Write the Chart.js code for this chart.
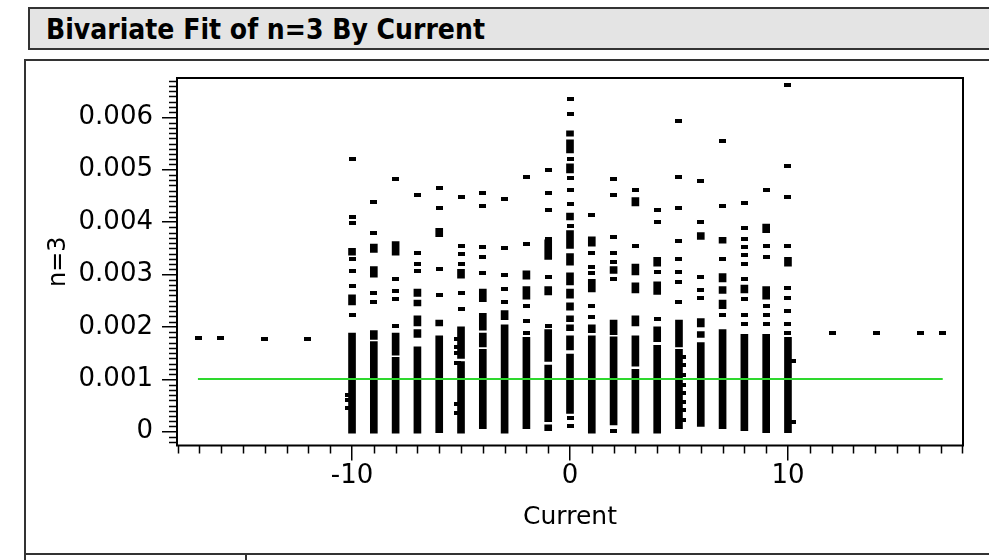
<!DOCTYPE html>
<html>
<head>
<meta charset="utf-8">
<script src="https://cdn.jsdelivr.net/npm/chart.js@4.4.0/dist/chart.umd.min.js"></script>
<style>
  body { margin: 0; width: 989px; height: 560px; overflow: hidden; background: #fff; position: relative; font-family: "DejaVu Sans", sans-serif; }
  #titleBar { position: absolute; left: 28px; top: 7px; width: 1000px; height: 39px; border: 2px solid #333; background: #e4e4e4;
              font-family: "DejaVu Sans Condensed", "DejaVu Sans", sans-serif; font-stretch: condensed;
              font-weight: bold; font-size: 28px; line-height: 42px; padding-left: 16px; color: #000; white-space: nowrap; }
  #frame { position: absolute; left: 24px; top: 59px; width: 1000px; height: 492px; border: 2px solid #333; }
  #footer { position: absolute; left: 24px; top: 553px; width: 219px; height: 20px; border-left: 2px solid #333; border-right: 2px solid #333; }
  #chart { position: absolute; left: 0; top: 0; }
</style>
</head>
<body>
<div id="titleBar">Bivariate Fit of n=3 By Current</div>
<div id="frame"></div>
<div id="footer"></div>
<canvas id="chart" width="989" height="560"></canvas>
<script>
// n=3 values below are in units of 0.0001
const S = 1e-4;

const currentLevels = [-10, -9, -8, -7, -6, -5, -4, -3, -2, -1, 0, 1, 2, 3, 4, 5, 6, 7, 8, 9, 10];

// dense runs of overlapping points per level: [low, high]
const denseRuns = [
    [[33.7, 35.0], [24.2, 26.1], [-0.3, 18.8]],
    [[34.2, 35.8], [29.5, 31.5], [17.6, 19.3], [-0.3, 17.2]],
    [[33.7, 36.3], [14.6, 18.8], [-0.3, 14.2]],
    [[25.8, 27.2], [24.0, 25.1], [20.2, 22.1], [18.0, 19.5], [-0.3, 16.2]],
    [[37.2, 38.8], [20.2, 21.3], [-0.2, 18.3]],
    [[29.3, 31.0], [14.0, 20.0], [-0.3, 13.4]],
    [[24.8, 27.2], [19.4, 22.6], [16.2, 18.8], [0.6, 15.7]],
    [[21.4, 23.1], [-0.3, 20.4]],
    [[29.1, 30.7], [25.3, 27.7], [0.6, 18.0]],
    [[32.9, 36.6], [26.1, 27.7], [13.4, 19.5], [1.9, 12.7], [0.2, 1.3]],
    [[56.4, 57.4], [53.2, 55.7], [49.4, 51.1], [40.4, 41.7], [35.0, 38.4], [31.8, 34.0], [28.0, 30.3],
     [25.5, 27.2], [23.2, 24.6], [21.0, 22.1], [19.3, 20.4], [15.6, 18.3], [3.5, 14.8]],
    [[35.4, 37.2], [26.7, 29.1], [18.9, 20.4], [-0.3, 18.3]],
    [[30.2, 31.5], [18.5, 21.3], [1.3, 18.1]],
    [[43.1, 44.7], [29.9, 32.0], [26.5, 28.4], [20.2, 22.1], [12.5, 18.3], [-0.3, 11.9]],
    [[31.6, 33.3], [26.2, 28.6], [17.2, 20.0], [-0.3, 16.5]],
    [[16.2, 21.3], [0.6, 15.7]],
    [[36.7, 38.0], [20.0, 21.6], [18.0, 19.1], [1.0, 17.0]],
    [[36.0, 37.1], [28.6, 30.2], [26.4, 27.7], [23.5, 25.1], [0.6, 19.5]],
    [[26.5, 28.0], [0.2, 18.6]],
    [[38.0, 39.6], [25.3, 27.7], [-0.2, 18.6]],
    [[31.6, 33.3], [-0.2, 18.0]]
];

// isolated points per level
const singleValues = [
    [52.0, 41.0, 39.8, 32.9, 30.7, 27.9, 22.3],
    [43.9, 38.0, 26.5, 24.8],
    [48.2, 29.1, 26.9, 25.3, 20.2],
    [45.2, 34.2, 32.0, 30.7],
    [46.5, 42.7, 31.0, 26.1],
    [44.8, 35.4, 34.0, 32.0, 26.5, 23.4],
    [45.6, 43.1, 35.2, 33.4, 30.3],
    [44.4, 35.0, 29.9, 27.2, 24.8],
    [48.7, 35.8, 24.0, 21.2, 18.9],
    [49.9, 45.6, 42.3, 36.8, 29.5, 20.2],
    [63.5, 60.6, 52.0, 48.5, 46.1, 43.5, 39.3, 2.7, 1.1],
    [41.4, 34.2, 31.4, 30.2, 24.0, 21.8],
    [48.2, 45.2, 37.2, 34.2, 32.4, 29.1, 0.2],
    [46.1, 35.4],
    [42.3, 40.1, 30.4, 21.6],
    [59.3, 48.7, 42.7, 36.3, 32.9, 30.4, 28.6, 24.8],
    [47.8, 40.1, 29.5, 27.0, 25.6],
    [55.5, 43.1, 32.9, 22.3],
    [43.6, 38.8, 36.8, 35.2, 33.7, 32.1, 29.1, 25.3, 22.3, 20.6],
    [46.1, 35.4, 33.4, 24.0, 22.3, 20.6],
    [66.2, 50.8, 44.8, 35.5, 27.4, 25.6, 23.1, 20.6, 18.9]
];

// points sitting slightly off the integer levels, and the far outliers
const offsetX = [-10.15, -10.15, -10.15, -5.15, -5.15, -5.15, -5.15, -5.15, -5.15,
                 5.18, 5.18, 5.18, 5.18, 5.18, 5.18, 5.18, 5.18, 10.2, 10.2];
const offsetY = [7.0, 6.0, 4.5, 17.6, 16.2, 15.0, 13.2, 5.3, 3.5,
                 14.3, 12.7, 10.8, 8.9, 7.3, 5.7, 4.1, 2.2, 13.4, 1.9];
const edgeX = [-17.05, -16.05, -14.0, -12.05, 12.05, 14.05, 16.1, 17.1];
const edgeY = [17.9, 17.9, 17.6, 17.6, 18.8, 18.8, 18.8, 18.8];

// linear fit (flat)
const fitX = [-17.07, 17.1];
const fitY = [10.05, 10.05];

const xTicks = [-10, 0, 10];
const yTicks = [0, 0.001, 0.002, 0.003, 0.004, 0.005, 0.006];

const FONT = '"DejaVu Sans", sans-serif';

// small dash used as marker
const marker = document.createElement('canvas');
marker.width = 7;
marker.height = 4;
const mctx = marker.getContext('2d');
mctx.fillStyle = '#000';
mctx.fillRect(0, 0, 7, 4);

const runData = [];
const pointData = [];
currentLevels.forEach((x, i) => {
    denseRuns[i].forEach(r => runData.push({ x: x, y: [r[0] * S, r[1] * S] }));
    singleValues[i].forEach(v => pointData.push({ x: x, y: v * S }));
});
offsetX.forEach((x, i) => pointData.push({ x: x, y: offsetY[i] * S }));
edgeX.forEach((x, i) => pointData.push({ x: x, y: edgeY[i] * S }));
const fitData = fitX.map((x, i) => ({ x: x, y: fitY[i] * S }));

// frame round the plot and the minor ticks
const framePlugin = {
    id: 'frame',
    afterDraw(chart) {
        const { ctx, chartArea: a, scales } = chart;
        ctx.save();
        ctx.strokeStyle = '#000';
        ctx.lineWidth = 1.5;
        ctx.beginPath();
        for (let k = Math.ceil(scales.y.min / 1e-4); k <= Math.floor(scales.y.max / 1e-4); k++) {
            if (k % 10 === 0) continue;
            const py = Math.round(scales.y.getPixelForValue(k * 1e-4)) + 0.5;
            ctx.moveTo(a.left - 8, py);
            ctx.lineTo(a.left, py);
        }
        for (let k = Math.ceil(scales.x.min); k <= Math.floor(scales.x.max); k++) {
            if (k % 10 === 0) continue;
            const px = Math.round(scales.x.getPixelForValue(k)) + 0.5;
            ctx.moveTo(px, a.bottom);
            ctx.lineTo(px, a.bottom + 8);
        }
        ctx.stroke();
        ctx.lineWidth = 2;
        ctx.strokeRect(a.left, a.top, a.right - a.left, a.bottom - a.top);
        ctx.restore();
    }
};

new Chart(document.getElementById('chart').getContext('2d'), {
    type: 'scatter',
    data: {
        datasets: [
            {
                type: 'bar',
                data: runData,
                backgroundColor: '#000',
                borderWidth: 0,
                barThickness: 7,
                grouped: false,
                order: 2
            },
            {
                type: 'scatter',
                data: pointData,
                pointStyle: marker,
                pointRadius: 3,
                order: 1
            },
            {
                type: 'scatter',
                data: fitData,
                showLine: true,
                borderColor: '#2ed82e',
                borderWidth: 2,
                pointRadius: 0,
                order: 0
            }
        ]
    },
    options: {
        responsive: false,
        animation: false,
        devicePixelRatio: 1,
        events: [],
        layout: { padding: { left: 0, right: 26, top: 78, bottom: 0 } },
        plugins: { legend: { display: false }, tooltip: { enabled: false } },
        scales: {
            x: {
                type: 'linear',
                min: -18.03,
                max: 18.03,
                offset: false,
                border: { display: false },
                grid: { offset: false, drawOnChartArea: false, drawTicks: true, tickLength: 15, color: '#000', lineWidth: 1.5 },
                afterBuildTicks: s => { s.ticks = xTicks.map(v => ({ value: v })); },
                afterFit: s => { s.height = 114.5; },
                ticks: { color: '#000', padding: 0, maxRotation: 0, autoSkip: false,
                         font: { family: FONT, size: 26 }, callback: v => String(v) },
                title: { display: true, text: 'Current', color: '#000',
                         font: { family: FONT, size: 25 }, padding: { top: 0, bottom: 28 } }
            },
            y: {
                type: 'linear',
                min: -0.000263,
                max: 0.00675,
                border: { display: false },
                grid: { drawOnChartArea: false, drawTicks: true, tickLength: 15, color: '#000', lineWidth: 1.5 },
                afterBuildTicks: s => { s.ticks = yTicks.map(v => ({ value: v })); },
                afterFit: s => { s.width = 177; },
                ticks: { color: '#000', padding: 9, autoSkip: false,
                         font: { family: FONT, size: 26 }, callback: v => (v === 0 ? '0' : v.toFixed(3)) },
                title: { display: true, text: 'n=3', color: '#000',
                         font: { family: FONT, size: 24 }, padding: { top: 44, bottom: 0 } }
            }
        }
    },
    plugins: [framePlugin]
});
</script>
</body>
</html>
